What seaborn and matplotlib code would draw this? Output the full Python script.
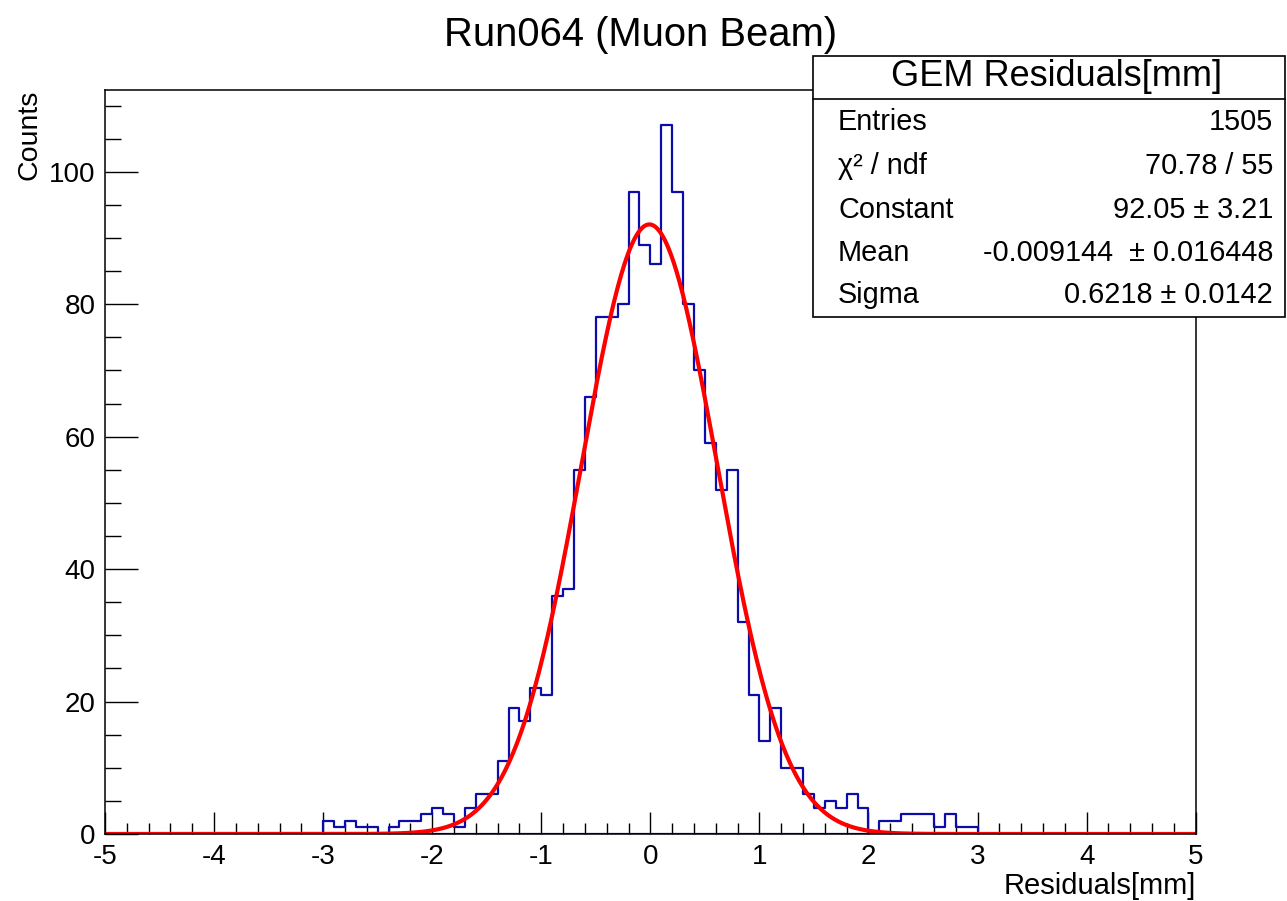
import numpy as np
import pandas as pd
import matplotlib
matplotlib.use("Agg")
import matplotlib.pyplot as plt
import seaborn as sns
from matplotlib.patches import Rectangle
from matplotlib.lines import Line2D
from matplotlib.ticker import MultipleLocator

# ---------------- data ----------------
bin_low, bin_high, bin_width = -3.0, 3.0, 0.1
counts = [2, 1, 2, 1, 1, 0, 1, 2, 2, 3, 4, 3, 1, 4, 6, 6,
          11, 19, 17, 22, 21, 36, 37,
          55, 66, 78, 78, 80, 97, 89, 86, 107, 97, 80, 70, 59,
          52, 55, 32, 21, 14, 19, 10, 10, 6, 4, 5, 4, 6, 4,
          0, 2, 2, 3, 3, 3, 1, 3, 1, 1]
fit_constant = 92.05
fit_mean = -0.009144
fit_sigma = 0.6218

title = "Run064 (Muon Beam)"
x_label = "Residuals[mm]"
y_label = "Counts"
stats_title = "GEM Residuals[mm]"
stats_labels = ["Entries", "χ² / ndf", "Constant", "Mean", "Sigma"]
stats_values = ["1505", "70.78 / 55", "92.05 ± 3.21",
                "-0.009144  ± 0.016448", "0.6218 ± 0.0142"]
x_ticks = [-5, -4, -3, -2, -1, 0, 1, 2, 3, 4, 5]
y_ticks = [0, 20, 40, 60, 80, 100]

# ---------------- style ----------------
sns.set_theme(style="white")
plt.rcParams["font.family"] = ["Liberation Sans", "DejaVu Sans"]
plt.rcParams["axes.unicode_minus"] = False

W, H = 1287, 901
fig = plt.figure(figsize=(W / 100, H / 100), dpi=100)
fig.patch.set_facecolor("white")

def fx(x):
    return x / W

def fy(y):
    return 1 - y / H

ax_l, ax_r, ax_t, ax_b = 105, 1195.7, 90, 834
ax = fig.add_axes([fx(ax_l), fy(ax_b), (ax_r - ax_l) / W, (ax_b - ax_t) / H])
ax.set_facecolor("white")

edges = np.round(np.arange(bin_low, bin_high + bin_width / 2, bin_width), 3)
centers = (edges[:-1] + edges[1:]) / 2
df = pd.DataFrame({"x": centers, "w": counts})

hist_color = "#0c0caa"
sns.histplot(data=df, x="x", weights="w", binwidth=bin_width,
             binrange=(bin_low, bin_high), element="step",
             fill=False, color=hist_color, linewidth=1.6, ax=ax)
# closing verticals and baseline like ROOT outline
ax.plot([edges[0], edges[0]], [0, counts[0]], color=hist_color, lw=1.6)
ax.plot([edges[-1], edges[-1]], [0, counts[-1]], color=hist_color, lw=1.6)
ax.plot([edges[0], edges[-1]], [0, 0], color=hist_color, lw=1.6)

# Gaussian fit curve from the fitted parameters
x_fit = np.linspace(-5, 5, 1001)
y_fit = fit_constant * np.exp(-0.5 * ((x_fit - fit_mean) / fit_sigma) ** 2)
sns.lineplot(x=x_fit, y=y_fit, color="#ff0000", linewidth=3.0,
             estimator=None, sort=False, ax=ax)

ax.set_xlim(-5, 5)
ax.set_ylim(0, 112.35)
ax.set_xticks(x_ticks)
ax.set_xticklabels([str(t) for t in x_ticks])
ax.set_yticks(y_ticks)
ax.set_yticklabels([str(t) for t in y_ticks])
ax.xaxis.set_minor_locator(MultipleLocator(0.2))
ax.yaxis.set_minor_locator(MultipleLocator(5))

ax.tick_params(axis="both", which="both", direction="in", colors="black",
               labelsize=20, width=1.0, top=False, right=False,
               bottom=True, left=True)
ax.tick_params(axis="x", which="major", length=15.8, pad=7)
ax.tick_params(axis="x", which="minor", length=8)
ax.tick_params(axis="y", which="major", length=23.8, pad=7)
ax.tick_params(axis="y", which="minor", length=11.5)

for s in ax.spines.values():
    s.set_visible(True)
    s.set_color("black")
    s.set_linewidth(1.1)

ax.set_xlabel(x_label, loc="right", fontsize=21, labelpad=2, color="black")
ax.set_ylabel(y_label, fontsize=20.5, color="black", rotation=90,
              ha="center", va="center")
ax.yaxis.set_label_coords((30 - ax_l) / (ax_r - ax_l), 1 - (135 - ax_t) / (ax_b - ax_t))

fig.text(fx(641), fy(35), title, ha="center", va="center", fontsize=28.8,
         color="black")

# ---------------- stats box ----------------
bx0, bx1, by0, by1, bhead = 813, 1285, 56, 317, 99
fig.add_artist(Rectangle((fx(bx0), fy(by1)), (bx1 - bx0) / W, (by1 - by0) / H,
                         transform=fig.transFigure, facecolor="white",
                         edgecolor="black", linewidth=1.2, zorder=5))
fig.add_artist(Line2D([fx(bx0), fx(bx1)], [fy(bhead), fy(bhead)],
                      transform=fig.transFigure, color="black", lw=1.2,
                      zorder=6))
fig.text(fx(1057), fy(77), stats_title, ha="center", va="center",
         fontsize=26, color="black", zorder=7)
row_y = [122, 166, 210, 253, 295]
for lab, val, yy in zip(stats_labels, stats_values, row_y):
    fig.text(fx(838), fy(yy), lab, ha="left", va="center", fontsize=20.8,
             color="black", zorder=7)
    fig.text(fx(1273), fy(yy), val, ha="right", va="center", fontsize=20.8,
             color="black", zorder=7)

fig.savefig("out.png", dpi=100, facecolor="white")
